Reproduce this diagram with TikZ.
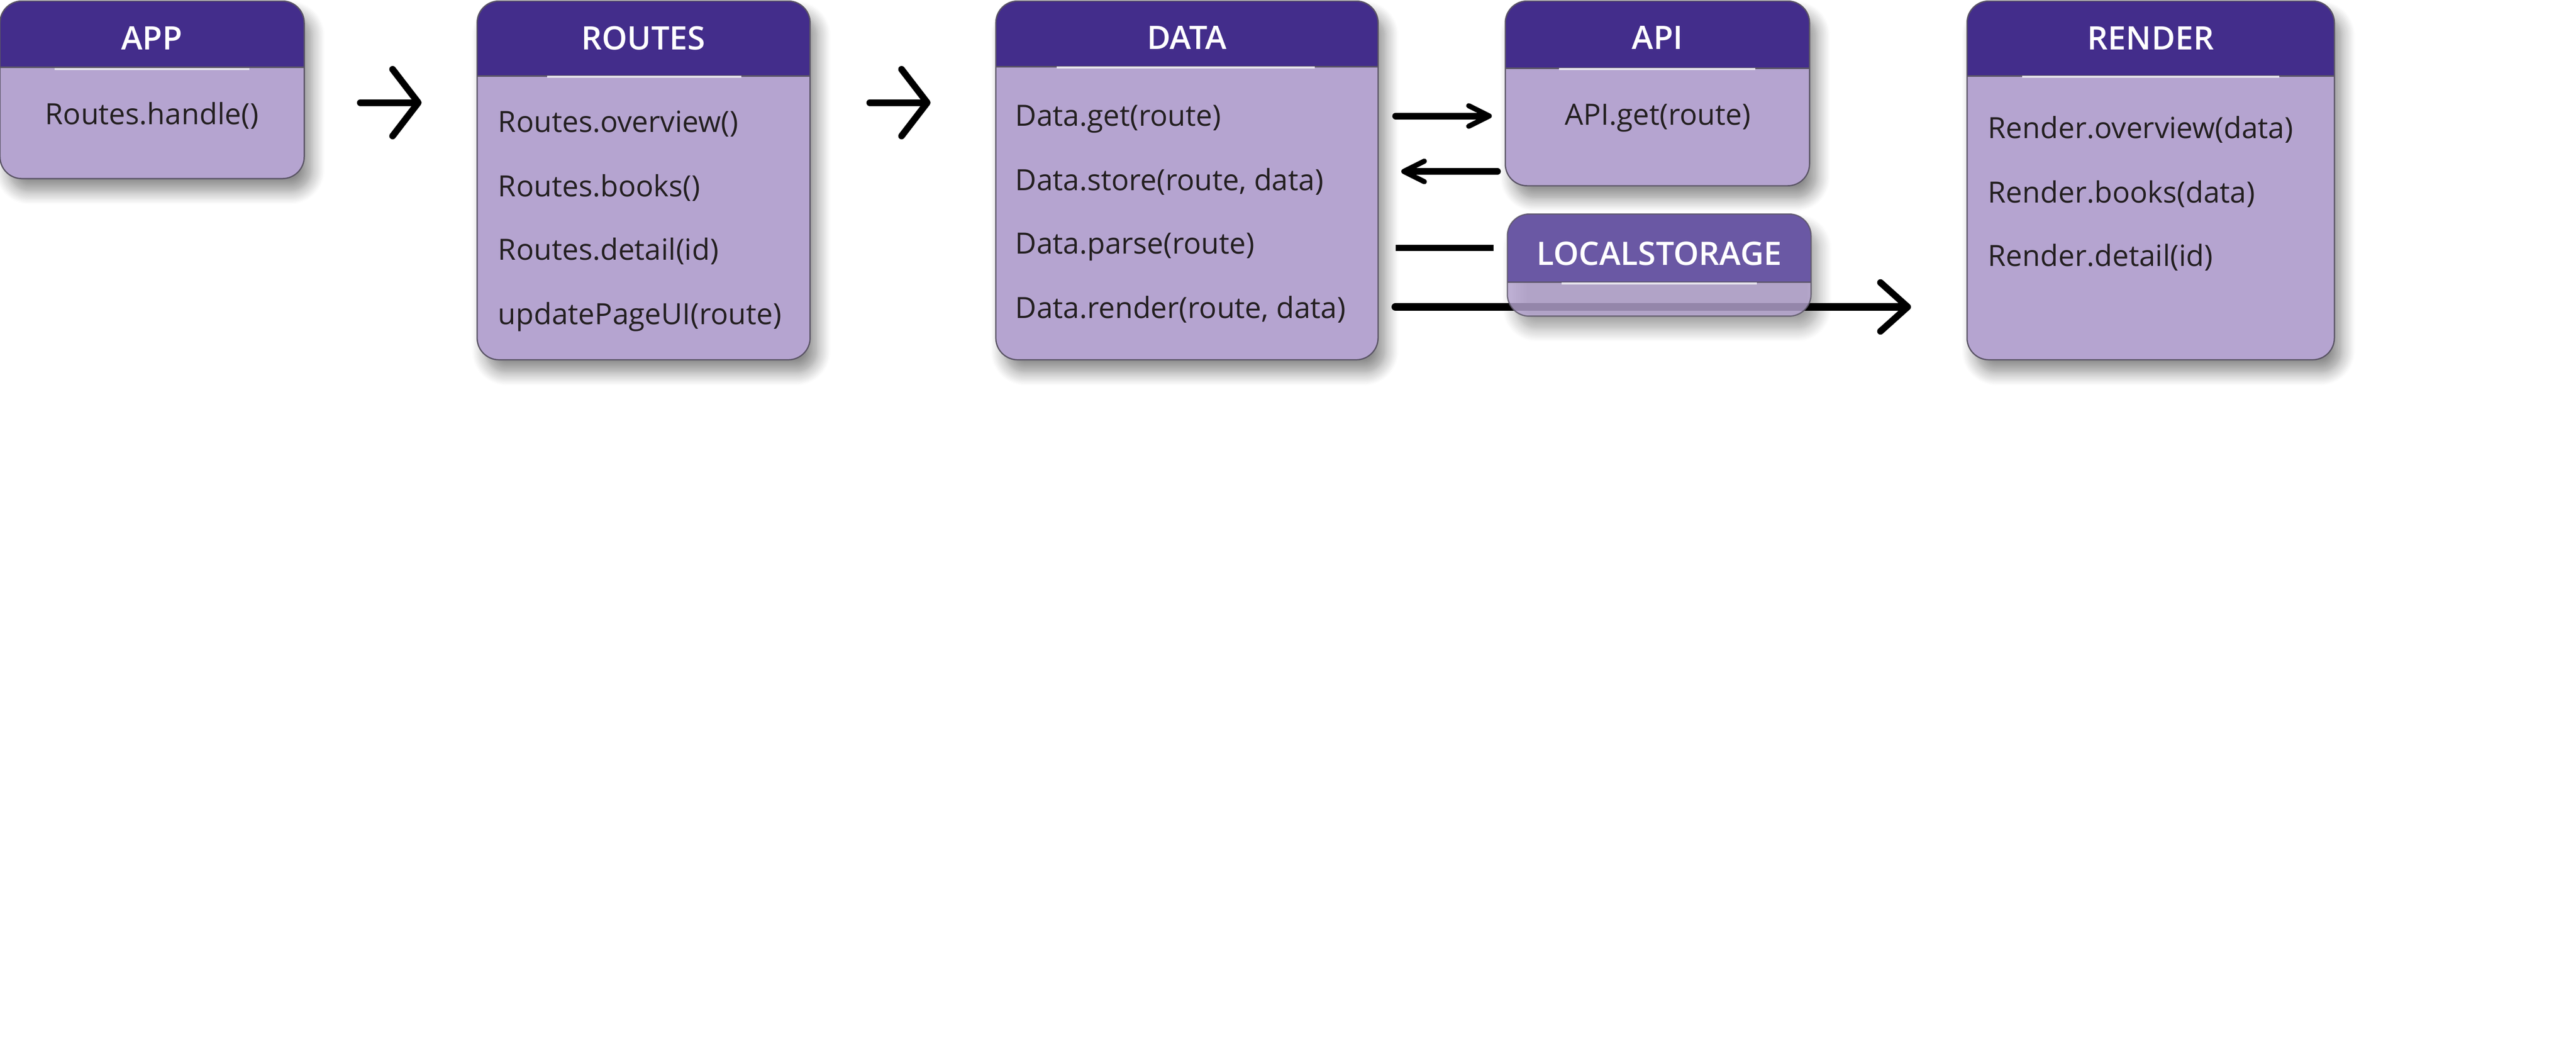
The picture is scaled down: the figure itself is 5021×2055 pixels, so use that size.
\documentclass[tikz,border=0pt]{standalone}
\usepackage{fontspec}
\setmainfont{Open Sans}
\IfFontExistsTF{Open Sans Semibold}{\newfontfamily\semibfont{Open Sans Semibold}}{%
  \IfFontExistsTF{Open Sans SemiBold}{\newfontfamily\semibfont{Open Sans SemiBold}}{%
    \newfontfamily\semibfont{Open Sans}[FakeBold=3]}}
\usetikzlibrary{arrows.meta,fit,shadows.blur}
\definecolor{headc}{HTML}{432D8B}
\definecolor{lshead}{HTML}{6A58A4}
\definecolor{bodyc}{HTML}{B5A4D0}
\definecolor{boxline}{HTML}{5B5566}
\definecolor{txt}{HTML}{231F20}
\definecolor{ulc}{HTML}{E6E3EC}
\def\hdcol{headc}
\tikzset{
  umlbox/.style={draw=boxline, line width=0.5pt, fill=bodyc, rounded corners=8.5pt, inner sep=0pt,
    blur shadow={shadow xshift=3pt, shadow yshift=-5pt, shadow blur radius=5pt, shadow blur steps=10, shadow opacity=45},
    path picture={
      \fill[fill=\hdcol, fill opacity=1, sharp corners] (path picture bounding box.north west) rectangle ([yshift=-#1]path picture bounding box.north east);
      \draw[boxline, line width=0.5pt, sharp corners] ([yshift=-#1]path picture bounding box.north west) -- ([yshift=-#1]path picture bounding box.north east);
    }},
  ghost/.style={fill opacity=0.82, draw opacity=0.82, /utils/exec={\def\hdcol{lshead}}},
  boxtitle/.style={font=\fontsize{12.6}{15}\selectfont\semibfont, text=white, inner sep=0pt, anchor=base},
  item/.style={font=\fontsize{11.4}{14}\selectfont, text=txt, inner sep=0pt, anchor=base west},
  citem/.style={item, anchor=base},
  uline/.style={draw=ulc, line width=0.8pt},
  bigarrow/.style={line width=2.6pt, line cap=round, -{Straight Barb[length=10pt, width=26pt, line width=2.6pt, round]}},
  smallarrow/.style={line width=2.6pt, line cap=round, -{Straight Barb[length=8pt, width=8pt, line width=2pt, round]}},
  plainline/.style={line width=2.6pt},
  renderarrow/.style={line width=3.2pt, line cap=round, -{Straight Barb[length=10.6pt, width=19pt, line width=2.6pt, round]}}
}
\begin{document}
\begin{tikzpicture}[x=0.2pt,y=-0.2pt]
\useasboundingbox (0,0) rectangle (5021,2055);

% boxes
\node[umlbox=25.8pt, fit={(0,2) (593,348)}] (app) {};
\node[umlbox=29.2pt, fit={(930,2) (1579,701)}] (routes) {};
\node[umlbox=25.6pt, fit={(1941,2) (2686,701)}] (data) {};
\node[umlbox=26.2pt, fit={(2934,2) (3527,362)}] (api) {};
\node[umlbox=29.2pt, fit={(3834,2) (4550,701)}] (render) {};

% render connector passes behind the LOCALSTORAGE box
\draw[renderarrow, shorten <=6.6pt, shorten >=21.6pt] (data.east |- 0,598) -- (render.west |- 0,598);

\node[umlbox=26.6pt, ghost, fit={(2938,417) (3530,616)}] (ls) {};

% underlines
\draw[uline] (106,135) -- (486,135);
\draw[uline] (1066,150) -- (1445,150);
\draw[uline] (2060,132) -- (2563,132);
\draw[uline] (3039,135) -- (3421,135);
\draw[uline] (3941,150) -- (4443,150);
\draw[uline] (3044,552) -- (3424,552);

% titles
\node[boxtitle] (app-t) at (296,97) {APP};
\node[boxtitle] (routes-t) at (1254,97) {ROUTES};
\node[boxtitle] (data-t) at (2313,96) {DATA};
\node[boxtitle] (api-t) at (3231,96) {API};
\node[boxtitle] (render-t) at (4192,97) {RENDER};
\node[boxtitle] (ls-t) at (3234,517) {LOCALSTORAGE};

% items
\node[citem] (app-1) at (296,243) {Routes.handle()};

\node[item] (routes-1) at (970,258) {Routes.overview()};
\node[item] (routes-2) at (970,383) {Routes.books()};
\node[item] (routes-3) at (970,507) {Routes.detail(id)};
\node[item] (routes-4) at (970,632) {updatePageUI(route)};

\node[item] (data-1) at (1978,246) {Data.get(route)};
\node[item] (data-2) at (1978,371) {Data.store(route, data)};
\node[item] (data-3) at (1978,495) {Data.parse(route)};
\node[item] (data-4) at (1978,620) {Data.render(route, data)};

\node[citem] (api-1) at (3231,244) {API.get(route)};

\node[item] (render-1) at (3874,270) {Render.overview(data)};
\node[item] (render-2) at (3874,395) {Render.books(data)};
\node[item] (render-3) at (3874,519) {Render.detail(id)};

% connectors
\draw[bigarrow, shorten <=21.6pt, shorten >=21.4pt] (app.east |- 0,200) -- (routes.west |- 0,200);
\draw[bigarrow, shorten <=23pt, shorten >=25.2pt] (routes.east |- 0,200) -- (data.west |- 0,200);
\draw[smallarrow, shorten <=6.6pt, shorten >=5pt] (data.east |- 0,226) -- (api.west |- 0,226);
\draw[smallarrow, shorten <=2.8pt, shorten >=8.8pt] (api.west |- 0,334) -- (data.east |- 0,334);
\draw[plainline, shorten <=6.6pt, shorten >=5.2pt] (data.east |- 0,483) -- (ls.west |- 0,483);
\end{tikzpicture}
\end{document}
